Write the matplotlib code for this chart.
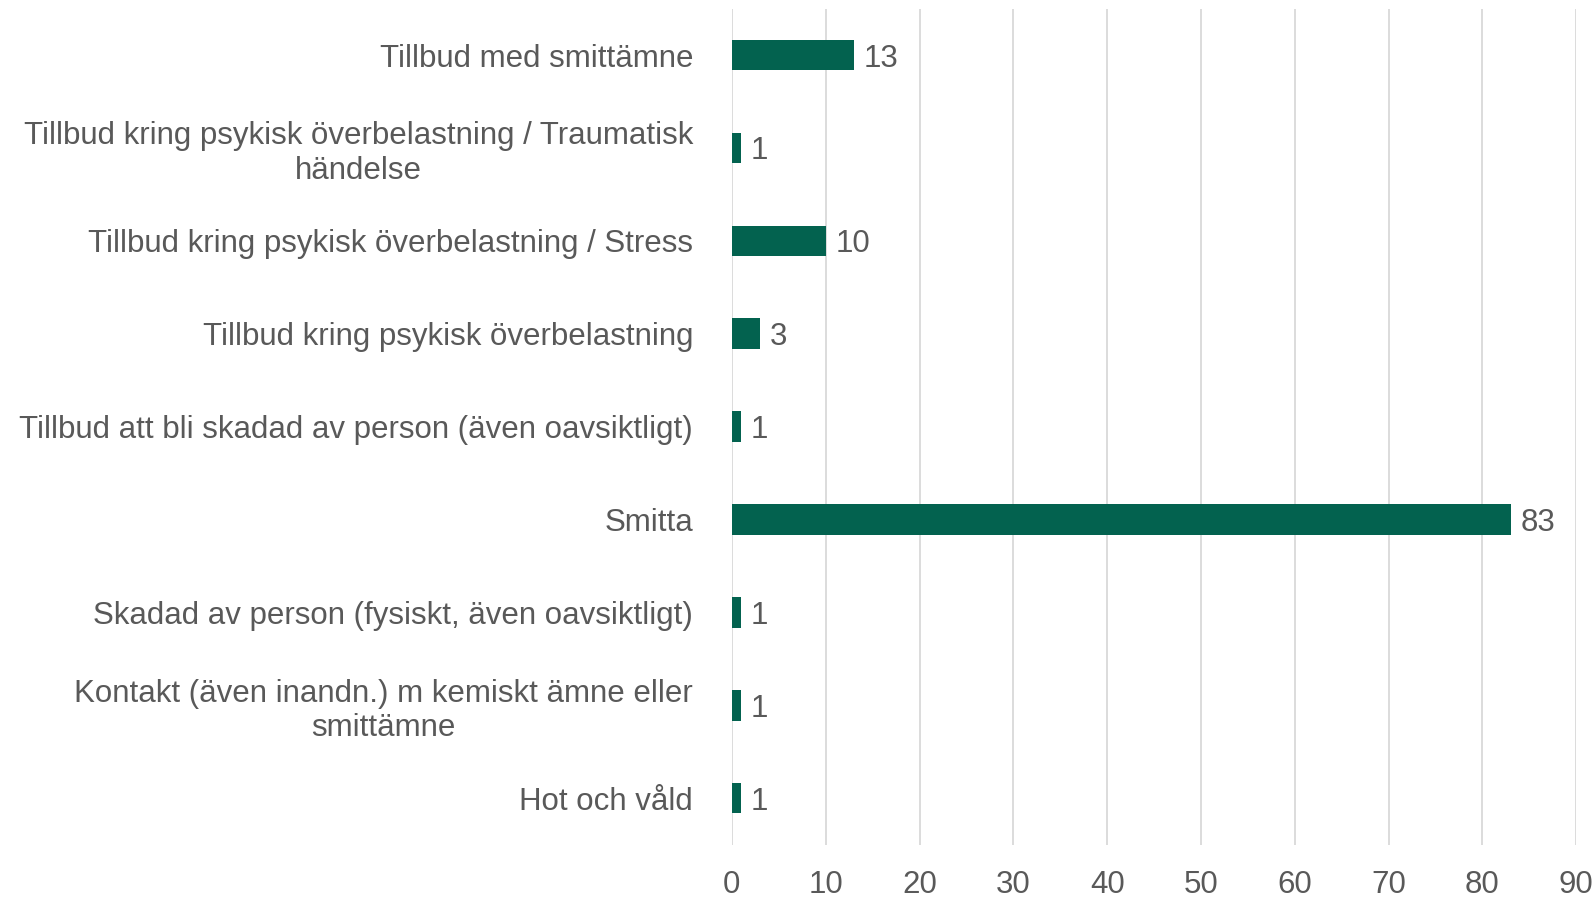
import numpy as np
import matplotlib.pyplot as plt

categories = [
    "Tillbud med smittämne",
    "Tillbud kring psykisk överbelastning / Traumatisk\nhändelse",
    "Tillbud kring psykisk överbelastning / Stress",
    "Tillbud kring psykisk överbelastning",
    "Tillbud att bli skadad av person (även oavsiktligt)",
    "Smitta",
    "Skadad av person (fysiskt, även oavsiktligt)",
    "Kontakt (även inandn.) m kemiskt ämne eller\nsmittämne",
    "Hot och våld",
]
values = [13, 1, 10, 3, 1, 83, 1, 1, 1]
xticks = [0, 10, 20, 30, 40, 50, 60, 70, 80, 90]

bar_color = "#03624F"
text_color = "#595959"
fs = 22.5

plt.rcParams['font.family'] = ['Liberation Sans', 'DejaVu Sans']

fig = plt.figure(figsize=(15.96, 8.97), dpi=100)
ax = fig.add_axes([0.4586, 0.0584, 0.529, 0.932])

y = np.arange(len(categories))
ax.barh(y, values, height=0.33, color=bar_color, zorder=3)

# value labels next to bar ends
for yi, v in zip(y, values):
    ax.annotate(str(v), (v, yi), xytext=(7, 0), textcoords='offset points',
                va='center_baseline', ha='left', fontsize=fs, color=text_color)

ax.set_xlim(0, 90)
ax.set_ylim(len(categories) - 0.5, -0.5)
ax.set_xticks(xticks)
ax.set_yticks(y)
ax.set_yticklabels(categories, multialignment='center')
ax.tick_params(axis='y', length=0, pad=28, labelsize=fs, labelcolor=text_color)
ax.tick_params(axis='x', length=0, pad=18, labelsize=fs, labelcolor=text_color)
ax.grid(axis='x', color='#d9d9d9', linewidth=1.3, zorder=0)
for s in ax.spines.values():
    s.set_visible(False)

fig.savefig("out.png", dpi=100)
